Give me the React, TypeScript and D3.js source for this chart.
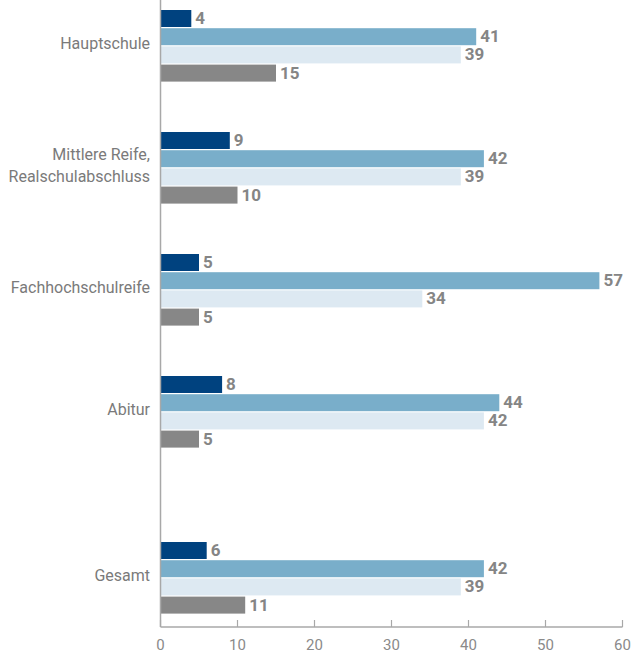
import React from "react";
import * as d3 from "d3";

const categories = ["Hauptschule", "Mittlere Reife,\nRealschulabschluss", "Fachhochschulreife", "Abitur", "Gesamt"];
const series1 = [4, 9, 5, 8, 6];
const series2 = [41, 42, 57, 44, 42];
const series3 = [39, 39, 34, 42, 39];
const series4 = [15, 10, 5, 5, 11];
const xTicks = [0, 10, 20, 30, 40, 50, 60];

const seriesList = [series1, series2, series3, series4];
const colors = ["#00427f", "#79aeca", "#dde9f2", "#878787"];

const W = 632;
const H = 654;
const x0 = 160.5;
const x1 = 622.5;
const axisY = 627;

export default function App() {
  const x = d3.scaleLinear().domain([0, 60]).range([x0, x1]);
  // group top positions: first four evenly spaced, total row separated by extra gap
  const groupIdx = d3.scaleLinear().domain([0, 3]).range([10, 376]);
  const groupTop = (i: number) => (i < 4 ? groupIdx(i) : groupIdx(3) + 166);
  const barStep = 18.2;
  const barH = 17;

  return (
    <svg width={W} height={H} style={{ position: "absolute", left: 0, top: 0 }}>
      <rect width={W} height={H} fill="#fff" />
      {categories.map((c, i) => {
        const top = groupTop(i);
        return (
          <g key={c}>
            {seriesList.map((s, k) => {
              const y = top + k * barStep;
              return (
                <g key={k}>
                  <rect x={x(0)} y={y} width={x(s[i]) - x(0)} height={barH} fill={colors[k]} />
                  <text
                    x={x(s[i]) + 4}
                    y={y + barH / 2 + 1}
                    dominantBaseline="middle"
                    fontFamily="Roboto, 'Open Sans', sans-serif"
                    fontWeight={700}
                    fontSize={17}
                    fill="#858585"
                  >
                    {s[i]}
                  </text>
                </g>
              );
            })}
            {(() => {
              const lines = c.split("\n");
              const center = top + (3 * barStep + barH) / 2;
              const lh = 22;
              return lines.map((ln, j) => (
                <text
                  key={j}
                  x={150}
                  y={center + (j - (lines.length - 1) / 2) * lh - 1}
                  textAnchor="end"
                  dominantBaseline="middle"
                  fontFamily="Roboto, 'Open Sans', sans-serif"
                  fontSize={16}
                  fill="#7a7a7a"
                >
                  {ln}
                </text>
              ));
            })()}
          </g>
        );
      })}
      <line x1={x0} x2={x0} y1={0} y2={axisY} stroke="#a8a8a8" strokeWidth={1.5} />
      <line x1={x0} x2={x1} y1={axisY} y2={axisY} stroke="#a8a8a8" strokeWidth={1.5} />
      {xTicks.map((t) => (
        <g key={t}>
          <line x1={x(t)} x2={x(t)} y1={axisY - 7} y2={axisY} stroke="#a8a8a8" strokeWidth={1.2} />
          <text
            x={x(t)}
            y={646}
            textAnchor="middle"
            dominantBaseline="middle"
            fontFamily="Roboto, 'Open Sans', sans-serif"
            fontSize={15}
            fill="#8a8a8a"
          >
            {t}
          </text>
        </g>
      ))}
    </svg>
  );
}
